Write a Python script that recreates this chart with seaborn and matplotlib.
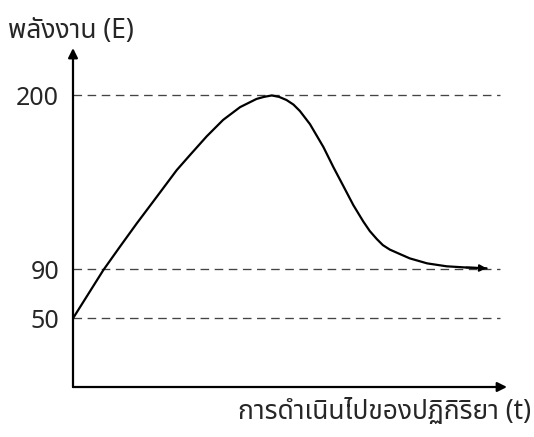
import numpy as np
import matplotlib
matplotlib.use("Agg")
import matplotlib.pyplot as plt
import seaborn as sns

# Reaction progress (arbitrary units) and energy along the reaction path
progress = [0.0, 7.0, 10.8, 14.7, 19.3, 23.9, 27.0, 30.8, 34.6, 38.5, 42.3,
            44.0, 45.8, 47.5, 49.2, 50.8, 52.3, 54.6, 57.7, 60.0, 62.3, 64.6,
            66.9, 68.4, 70.0, 71.4, 73.0, 75.3, 77.6, 81.6, 86.1, 90.6, 95.3]
energy = [50.0, 89.5, 106.6, 122.9, 140.4, 157.1, 166.3, 177.1, 186.5, 193.6,
          198.1, 199.2, 200.0, 199.2, 197.5, 195.0, 191.4, 184.1, 170.9,
          158.9, 147.2, 135.0, 124.1, 117.6, 112.1, 107.8, 104.6, 101.4,
          98.2, 94.5, 92.3, 91.4, 90.8]

# Reference energy levels marked on the energy axis
levels = [50, 90, 200]
level_labels = ["50", "90", "200"]

y_label = "พลังงาน (E)"
x_label = "การดำเนินไปของปฏิกิริยา (t)"

sns.set_style("white")
plt.rcParams["font.family"] = ["Noto Sans Thai", "Sarabun", "TH Sarabun New",
                               "Loma", "Garuda", "Tlwg Typo", "Waree",
                               "Kinnari", "Norasi", "DejaVu Sans"]


# Schematic (not-to-scale) energy axis: a gentle quadratic stretch
def energy_forward(v):
    u = np.asarray(v, dtype=float) - 50.0
    u = np.maximum(u, -230.0)
    return 1.12985 * u + 0.002379 * u ** 2


def energy_inverse(f):
    f = np.asarray(f, dtype=float)
    disc = np.maximum(1.12985 ** 2 + 4 * 0.002379 * f, 0.0)
    return 50.0 + (-1.12985 + np.sqrt(disc)) / (2 * 0.002379)


fig = plt.figure(figsize=(5.34, 4.37), dpi=100)
ax = fig.add_axes([0.1367, 0.1144, 0.9494 - 0.1367, 0.890 - 0.1144])
ax.set_yscale("function", functions=(energy_forward, energy_inverse))
ax.set_xlim(0, 100)
ax.set_ylim(-21.6, 224.9)

# Dashed guide lines for each marked level
ax.hlines(levels, 0, 98.4, colors="#444444", linewidth=0.95,
          linestyles=(0, (6.5, 4.2)), zorder=1)

# Energy profile
sns.lineplot(x=progress, y=energy, sort=False, color="black",
             linewidth=1.6, ax=ax, zorder=3)
ax.annotate("", xy=(progress[-1], energy[-1]),
            xytext=(progress[-2], energy[-2]),
            arrowprops=dict(arrowstyle="-|>", color="black", lw=1.4,
                            mutation_scale=10, shrinkA=0, shrinkB=0),
            zorder=4)

# Axes drawn as arrows
for s in ax.spines.values():
    s.set_visible(False)
ax.annotate("", xy=(0, 1), xytext=(0, 0), xycoords="axes fraction",
            arrowprops=dict(arrowstyle="-|>", color="black", lw=1.6,
                            mutation_scale=14, shrinkA=0, shrinkB=0))
ax.annotate("", xy=(1, 0), xytext=(0, 0), xycoords="axes fraction",
            arrowprops=dict(arrowstyle="-|>", color="black", lw=1.6,
                            mutation_scale=14, shrinkA=0, shrinkB=0))

ax.set_xticks([])
ax.set_yticks(levels)
ax.set_yticklabels(level_labels, fontsize=18)
ax.tick_params(axis="y", length=0, pad=10)
ax.minorticks_off()
ax.set_xlabel("")
ax.set_ylabel("")

fig.text(8 / 534, 1 - 31 / 437, y_label, fontsize=19, ha="left", va="center")
fig.text(531 / 534, 1 - 412 / 437, x_label, fontsize=19, ha="right",
         va="center")

fig.savefig("out.png", dpi=100)
